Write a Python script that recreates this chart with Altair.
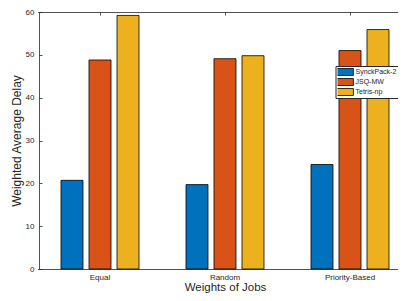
import altair as alt
import pandas as pd

categories = ["Equal", "Random", "Priority-Based"]
series = ["SynckPack-2", "JSQ-MW", "Tetris-np"]
synckpack = [20.7, 19.7, 24.4]
jsq = [48.8, 49.1, 51.0]
tetris = [59.2, 49.8, 55.9]
colors = ["#0072BD", "#D95319", "#EDB120"]
y_ticks = [0, 10, 20, 30, 40, 50, 60]

rows = []
for s, vals in zip(series, [synckpack, jsq, tetris]):
    for c, v in zip(categories, vals):
        rows.append({"cat": c, "series": s, "value": v})
df = pd.DataFrame(rows)

W, H = 359, 257
FONT = "Liberation Sans"
TXT = "#262626"

xscale = alt.Scale(domain=categories, range=[-1.5, 373.5], paddingInner=0, paddingOuter=0)
yscale = alt.Scale(domain=[0, 60], nice=False, zero=True)
offscale = alt.Scale(domain=series, paddingInner=0.2143, paddingOuter=0.839)

base = alt.Chart(df)

bars = base.mark_bar(stroke="black", strokeWidth=0.8).encode(
    x=alt.X("cat:N", sort=categories, scale=xscale,
            axis=alt.Axis(title="Weights of Jobs", labelAngle=0, ticks=False, domain=True,
                          domainColor=TXT, domainWidth=0.8, labelFont=FONT, labelFontSize=8,
                          labelColor=TXT, labelPadding=4, titleFont=FONT, titleFontSize=11.5,
                          titleFontWeight="normal", titleColor=TXT, titleY=21.5,
                          titleBaseline="alphabetic", grid=False)),
    xOffset=alt.XOffset("series:N", sort=series, scale=offscale),
    y=alt.Y("value:Q", scale=yscale,
            axis=alt.Axis(title="Weighted Average Delay", values=y_ticks, ticks=False, domain=True,
                          domainColor=TXT, domainWidth=0.8, labelFont=FONT, labelFontSize=8,
                          labelColor=TXT, labelPadding=5, titleFont=FONT, titleFontSize=12,
                          titleFontWeight="normal", titleColor=TXT, titleX=-18.5,
                          titleBaseline="alphabetic", grid=False)),
    color=alt.Color("series:N", sort=series, scale=alt.Scale(domain=series, range=colors),
                    legend=alt.Legend(title=None, orient="none", legendX=296.5, legendY=54,
                                      symbolType="M-3.4,-1H3.4V1H-3.4Z", symbolSize=49,
                                      symbolStrokeColor="black", symbolStrokeWidth=0.8,
                                      labelFont=FONT, labelFontSize=7, labelColor=TXT,
                                      labelOffset=10, fillColor="white", strokeColor=TXT,
                                      padding=2, rowPadding=2, clipHeight=8)),
)

inner_ticks = base.mark_bar(opacity=0).encode(
    x=alt.X("cat:N", sort=categories, scale=xscale,
            axis=alt.Axis(orient="top", offset=-H, labels=False, domain=False, ticks=True,
                          tickSize=3, tickColor=TXT, tickWidth=0.8, title=None, grid=False)),
    y=alt.Y("value:Q", scale=yscale,
            axis=alt.Axis(orient="right", offset=-W, values=y_ticks, labels=False, domain=False,
                          ticks=True, tickSize=3, tickColor=TXT, tickWidth=0.8, title=None,
                          grid=False)),
)

top_border = base.mark_bar(opacity=0).encode(
    x=alt.X("cat:N", sort=categories, scale=xscale,
            axis=alt.Axis(orient="bottom", offset=-H, labels=False, domain=True,
                          domainColor=TXT, domainWidth=0.8, ticks=True, tickSize=3,
                          tickColor=TXT, tickWidth=0.8, title=None, grid=False)),
    y=alt.Y("value:Q", scale=yscale, axis=None),
)

chart = alt.layer(bars, inner_ticks, top_border).resolve_axis(
    x="independent", y="independent"
).properties(
    width=W, height=H,
    autosize=alt.AutoSizeParams(type="none"),
    padding={"left": 31, "top": 4, "right": 0, "bottom": 24},
).configure_view(stroke=None)

chart.save("out.html", embed_options={"renderer": "svg", "actions": False})
